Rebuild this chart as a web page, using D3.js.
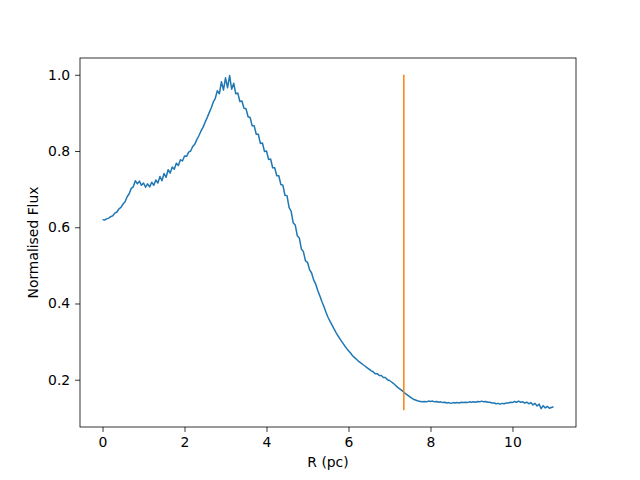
<!DOCTYPE html>
<html>
<head>
<meta charset="utf-8">
<script src="https://cdn.jsdelivr.net/npm/d3@7"></script>
<style>
  body { margin: 0; background: #fff; }
  svg text { font-family: "DejaVu Sans", sans-serif; fill: #000; }
</style>
</head>
<body>
<div class="chart"></div>
<script>
// radial profile, sampled every 0.05 pc
var radiusStep = 0.05;
var flux = [
  0.620, 0.619, 0.622, 0.624, 0.628, 0.630, 0.637, 0.640, 0.648, 0.652,
  0.661, 0.667, 0.680, 0.688, 0.702, 0.706, 0.722, 0.714, 0.721, 0.710,
  0.716, 0.705, 0.714, 0.706, 0.718, 0.710, 0.724, 0.716, 0.733, 0.722,
  0.741, 0.731, 0.751, 0.742, 0.758, 0.752, 0.768, 0.762, 0.777, 0.774,
  0.787, 0.786, 0.797, 0.800, 0.812, 0.818, 0.830, 0.840, 0.852, 0.862,
  0.875, 0.887, 0.900, 0.913, 0.928, 0.938, 0.958, 0.950, 0.982, 0.960,
  0.992, 0.966, 0.998, 0.962, 0.978, 0.950, 0.952, 0.930, 0.931, 0.912,
  0.911, 0.890, 0.888, 0.866, 0.866, 0.844, 0.844, 0.820, 0.821, 0.799,
  0.800, 0.778, 0.779, 0.756, 0.756, 0.735, 0.735, 0.712, 0.710, 0.684,
  0.683, 0.652, 0.642, 0.612, 0.606, 0.578, 0.572, 0.543, 0.536, 0.512,
  0.508, 0.489, 0.480, 0.462, 0.451, 0.434, 0.420, 0.405, 0.392, 0.377,
  0.364, 0.353, 0.343, 0.333, 0.323, 0.314, 0.306, 0.298, 0.290, 0.283,
  0.276, 0.270, 0.263, 0.258, 0.253, 0.248, 0.244, 0.240, 0.236, 0.232,
  0.228, 0.224, 0.221, 0.216, 0.216, 0.211, 0.211, 0.206, 0.206, 0.200,
  0.198, 0.194, 0.190, 0.185, 0.180, 0.176, 0.172, 0.167, 0.163, 0.159,
  0.155, 0.151, 0.148, 0.146, 0.144, 0.143, 0.142, 0.143, 0.142, 0.144,
  0.143, 0.144, 0.142, 0.143, 0.141, 0.142, 0.140, 0.141, 0.139, 0.140,
  0.138, 0.140, 0.139, 0.140, 0.139, 0.141, 0.140, 0.141, 0.140, 0.142,
  0.141, 0.142, 0.141, 0.143, 0.142, 0.144, 0.142, 0.143, 0.141, 0.141,
  0.139, 0.139, 0.137, 0.138, 0.136, 0.138, 0.137, 0.139, 0.139, 0.141,
  0.140, 0.143, 0.141, 0.144, 0.141, 0.142, 0.139, 0.141, 0.137, 0.140,
  0.134, 0.138, 0.131, 0.136, 0.124, 0.132, 0.126, 0.130, 0.125, 0.127,
  0.129
];
// vertical marker
var markerR = 7.35;
var markerRange = [0.12, 1.0];

var xTicks = [0, 2, 4, 6, 8, 10];
var yTicks = [0.2, 0.4, 0.6, 0.8, 1.0];

var data = flux.map(function(f, i) { return { r: i * radiusStep, f: f }; });

var margin = { top: 58, right: 64, bottom: 53, left: 80 };
var width = 640 - margin.left - margin.right,
    height = 480 - margin.top - margin.bottom;

// matplotlib style 5% padding
function pad(ext) {
  var d = (ext[1] - ext[0]) * 0.05;
  return [ext[0] - d, ext[1] + d];
}
var xExt = d3.extent(data.map(function(d) { return d.r; }).concat([markerR]));
var yExt = d3.extent(flux.concat(markerRange));

var x = d3.scaleLinear().domain(pad(xExt)).range([0, width]);
var y = d3.scaleLinear().domain(pad(yExt)).range([height, 0]);

var svg = d3.select(".chart").append("svg")
    .attr("width", 640)
    .attr("height", 480)
  .append("g")
    .attr("transform", "translate(" + margin.left + "," + margin.top + ")");

var line = d3.line()
    .x(function(d) { return x(d.r); })
    .y(function(d) { return y(d.f); });

svg.append("path")
    .datum(data)
    .attr("fill", "none")
    .attr("stroke", "#1f77b4")
    .attr("stroke-width", 1.5)
    .attr("stroke-linejoin", "round")
    .attr("d", line);

svg.append("line")
    .attr("x1", x(markerR)).attr("x2", x(markerR))
    .attr("y1", y(markerRange[0])).attr("y2", y(markerRange[1]))
    .attr("stroke", "#ff7f0e")
    .attr("stroke-width", 1.5);

var xAxis = d3.axisBottom(x).tickValues(xTicks).tickSize(4.9).tickPadding(4.9)
    .tickFormat(d3.format("d"));
var yAxis = d3.axisLeft(y).tickValues(yTicks).tickSize(4.9).tickPadding(4.9)
    .tickFormat(d3.format(".1f"));

var gx = svg.append("g")
    .attr("transform", "translate(0," + height + ")")
    .call(xAxis);
var gy = svg.append("g").call(yAxis);

[gx, gy].forEach(function(g) {
  g.select(".domain").remove();
  g.selectAll("line").attr("stroke", "#000").attr("stroke-width", 0.8);
  g.selectAll("text").style("font-size", "13.9px");
});

// frame
svg.append("rect")
    .attr("width", width)
    .attr("height", height)
    .attr("fill", "none")
    .attr("stroke", "#000")
    .attr("stroke-width", 0.8);

svg.append("text")
    .attr("x", width / 2)
    .attr("y", height + 40)
    .attr("text-anchor", "middle")
    .style("font-size", "13.9px")
    .text("R (pc)");

svg.append("text")
    .attr("transform", "translate(" + (-42) + "," + (height / 2) + ") rotate(-90)")
    .attr("text-anchor", "middle")
    .style("font-size", "13.9px")
    .text("Normalised Flux");
</script>
</body>
</html>
